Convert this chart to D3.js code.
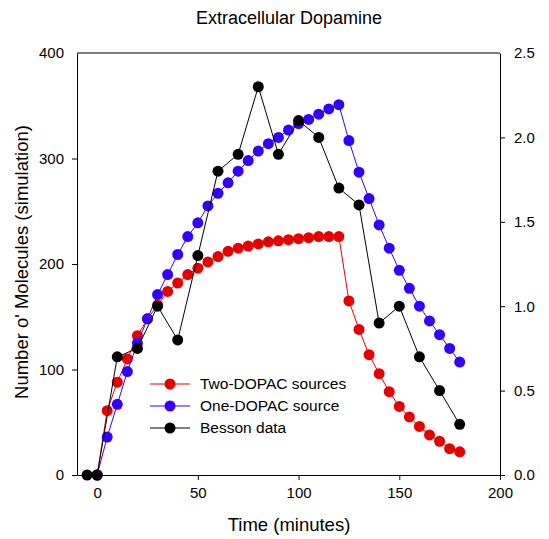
<!DOCTYPE html>
<html>
<head>
  <meta charset="utf-8">
  <script src="https://cdn.jsdelivr.net/npm/d3@7"></script>
  <style>
    body { margin: 0; background: #fff; }
    text { font-family: "Liberation Sans", Arial, sans-serif; fill: #000; }
  </style>
</head>
<body>
  <div id="chart"></div>
  <script>
    // simulation time points (minutes)
    var simTime = [0, 5, 10, 15, 20, 25, 30, 35, 40, 45, 50, 55, 60, 65, 70, 75, 80, 85, 90, 95,
      100, 105, 110, 115, 120, 125, 130, 135, 140, 145, 150, 155, 160, 165, 170, 175, 180]
    var twoDopac = [0, 61, 88, 110, 132, 148, 161, 174, 182, 190, 196, 202, 207, 212, 215, 217, 219, 221, 222, 223,
      224, 225, 226, 226, 226, 165, 138, 114, 96, 79, 65, 55, 46, 38, 32, 25, 22]
    var oneDopac = [0, 36, 67, 98, 125, 148, 171, 190, 209, 226, 239, 255, 267, 277, 288, 298, 307, 314, 320, 327,
      333, 337, 342, 347, 351, 317, 287, 262, 237, 215, 194, 177, 160, 146, 133, 120, 107]
    // Besson data on right axis
    var bessonTime = [-5, 0, 10, 20, 30, 40, 50, 60, 70, 80, 90, 100, 110, 120, 130, 140, 150, 160, 170, 180]
    var besson = [0, 0, 0.7, 0.75, 1.0, 0.8, 1.3, 1.8, 1.9, 2.3, 1.9, 2.1, 2.0, 1.7, 1.6, 0.9, 1.0, 0.7, 0.5, 0.3]

    var xTicks = [0, 50, 100, 150, 200]
    var yLeftTicks = [0, 100, 200, 300, 400]
    var yRightTicks = [0, 0.5, 1.0, 1.5, 2.0, 2.5]
    var legendNames = ['Two-DOPAC sources', 'One-DOPAC source', 'Besson data']
    var colors = ['#e60000', '#3300ff', '#000000']

    var W = 549, H = 539
    var plotL = 77, plotR = 500, plotT = 53, plotB = 475

    var svg = d3.select('#chart').append('svg')
      .attr('width', W)
      .attr('height', H)

    var x = d3.scaleLinear().domain([-10, 200]).range([plotL, plotR])
    var yL = d3.scaleLinear().domain([0, 400]).range([plotB, plotT])
    var yR = d3.scaleLinear().domain([0, 2.5]).range([plotB, plotT])

    // frame top line
    svg.append('line')
      .attr('x1', plotL).attr('x2', plotR)
      .attr('y1', plotT).attr('y2', plotT)
      .attr('stroke', '#000').attr('stroke-width', 1)

    var gx = svg.append('g')
      .attr('transform', 'translate(0,' + plotB + ')')
      .call(d3.axisBottom(x).tickValues(xTicks).tickSizeInner(5).tickSizeOuter(0).tickPadding(7))
    var gl = svg.append('g')
      .attr('transform', 'translate(' + plotL + ',0)')
      .call(d3.axisLeft(yL).tickValues(yLeftTicks).tickSizeInner(5).tickSizeOuter(0).tickPadding(8))
    var gr = svg.append('g')
      .attr('transform', 'translate(' + plotR + ',0)')
      .call(d3.axisRight(yR).tickValues(yRightTicks).tickSizeInner(5).tickSizeOuter(0).tickPadding(9)
        .tickFormat(d3.format('.1f')))

    ;[gx, gl, gr].forEach(function (g) {
      g.selectAll('text').style('font-size', '15px').style('font-family', '"Liberation Sans", Arial, sans-serif')
      g.select('.domain').attr('stroke', '#000')
    })
    // no tick marks on the top corner values
    gl.selectAll('.tick').filter(function (d) { return d === 400 }).select('line').remove()
    gr.selectAll('.tick').filter(function (d) { return d === 2.5 }).select('line').remove()

    function drawSeries(xs, ys, yScale, color) {
      var pts = xs.map(function (t, i) { return [t, ys[i]] })
      var line = d3.line()
        .x(function (d) { return x(d[0]) })
        .y(function (d) { return yScale(d[1]) })
      svg.append('path')
        .datum(pts)
        .attr('fill', 'none')
        .attr('stroke', color)
        .attr('stroke-width', 1)
        .attr('d', line)
      svg.append('g').selectAll('circle')
        .data(pts)
        .enter().append('circle')
        .attr('cx', function (d) { return x(d[0]) })
        .attr('cy', function (d) { return yScale(d[1]) })
        .attr('r', 5.5)
        .attr('fill', color)
    }

    drawSeries(simTime, twoDopac, yL, colors[0])
    drawSeries(simTime, oneDopac, yL, colors[1])
    drawSeries(bessonTime, besson, yR, colors[2])

    // legend
    var legend = svg.append('g').attr('transform', 'translate(150,384)')
    legendNames.forEach(function (name, i) {
      var row = legend.append('g').attr('transform', 'translate(0,' + (i * 22) + ')')
      row.append('line').attr('x1', 0).attr('x2', 40).attr('y1', 0).attr('y2', 0)
        .attr('stroke', colors[i]).attr('stroke-width', 1)
      row.append('circle').attr('cx', 20).attr('cy', 0).attr('r', 5.5).attr('fill', colors[i])
      row.append('text').attr('x', 50).attr('y', 0).attr('dy', '0.35em')
        .style('font-size', '15.5px').text(name)
    })

    // titles
    svg.append('text')
      .attr('x', 289).attr('y', 24)
      .attr('text-anchor', 'middle')
      .style('font-size', '18px')
      .text('Extracellular Dopamine')

    svg.append('text')
      .attr('x', 289).attr('y', 531)
      .attr('text-anchor', 'middle')
      .style('font-size', '18.5px')
      .text('Time (minutes)')

    svg.append('text')
      .attr('transform', 'translate(28,262) rotate(-90)')
      .attr('text-anchor', 'middle')
      .style('font-size', '18.5px')
      .text("Number o' Molecules (simulation)")
  </script>
</body>
</html>
